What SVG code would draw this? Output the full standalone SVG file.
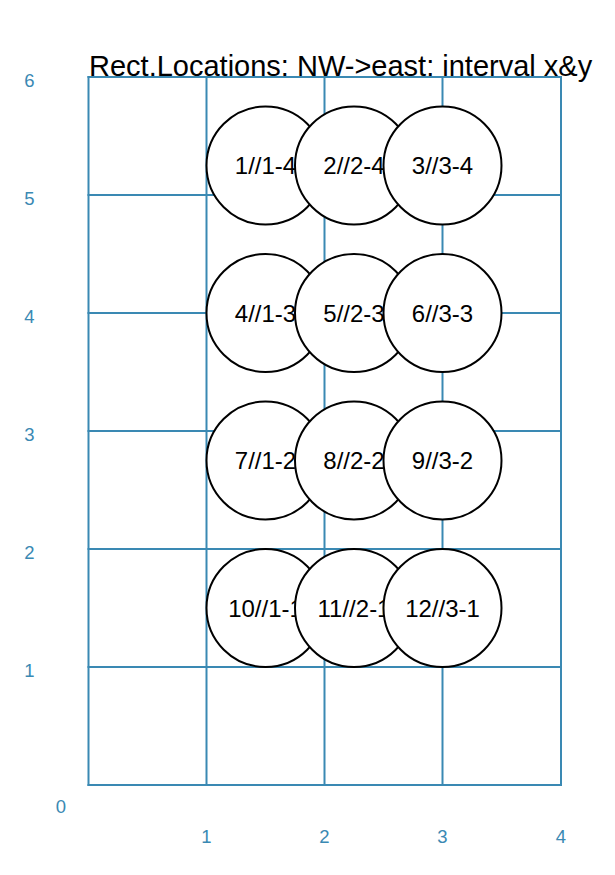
<svg xmlns="http://www.w3.org/2000/svg" width="615" height="875" viewBox="0 0 615 875">
<style>
.grid{stroke:#3a89b3;stroke-width:2;fill:none;stroke-linecap:square}
.ax{font-family:"Liberation Sans",Arial,sans-serif;font-size:18.5px;fill:#3a89b3;text-anchor:middle}
.title{font-family:"Liberation Sans",Arial,sans-serif;font-size:29px;fill:#000}
.node circle{fill:#fff;stroke:#000;stroke-width:2}
.node text{font-family:"Liberation Sans",Arial,sans-serif;font-size:24px;fill:#000;text-anchor:middle}
</style>
<rect width="615" height="875" fill="#fff"/>
<g id="grid" class="grid">
<path d="M88.5 77V785M206.5 77V785M324.5 77V785M442.5 77V785M561 77V785"/>
<path d="M88.5 77H561M88.5 195H561M88.5 313H561M88.5 431H561M88.5 549H561M88.5 667H561M88.5 785H561"/>
</g>
<g id="axis-labels" class="ax">
<text x="29.5" y="87">6</text>
<text x="29.5" y="205">5</text>
<text x="29.5" y="323">4</text>
<text x="29.5" y="441">3</text>
<text x="29.5" y="559">2</text>
<text x="29.5" y="677">1</text>
<text x="61" y="813">0</text>
<text x="206.5" y="843">1</text>
<text x="324.5" y="843">2</text>
<text x="442.5" y="843">3</text>
<text x="561" y="843">4</text>
</g>
<text id="title" class="title" x="89" y="76">Rect.Locations: NW-&gt;east: interval x&amp;y</text>
<g id="n1" class="node"><circle cx="265.5" cy="165.5" r="59"/><text x="265.5" y="174">1//1-4</text></g>
<g id="n2" class="node"><circle cx="354" cy="165.5" r="59"/><text x="354" y="174">2//2-4</text></g>
<g id="n3" class="node"><circle cx="442.5" cy="165.5" r="59"/><text x="442.5" y="174">3//3-4</text></g>
<g id="n4" class="node"><circle cx="265.5" cy="313" r="59"/><text x="265.5" y="321.5">4//1-3</text></g>
<g id="n5" class="node"><circle cx="354" cy="313" r="59"/><text x="354" y="321.5">5//2-3</text></g>
<g id="n6" class="node"><circle cx="442.5" cy="313" r="59"/><text x="442.5" y="321.5">6//3-3</text></g>
<g id="n7" class="node"><circle cx="265.5" cy="460.5" r="59"/><text x="265.5" y="469">7//1-2</text></g>
<g id="n8" class="node"><circle cx="354" cy="460.5" r="59"/><text x="354" y="469">8//2-2</text></g>
<g id="n9" class="node"><circle cx="442.5" cy="460.5" r="59"/><text x="442.5" y="469">9//3-2</text></g>
<g id="n10" class="node"><circle cx="265.5" cy="608" r="59"/><text x="265.5" y="616.5">10//1-1</text></g>
<g id="n11" class="node"><circle cx="354" cy="608" r="59"/><text x="354" y="616.5">11//2-1</text></g>
<g id="n12" class="node"><circle cx="442.5" cy="608" r="59"/><text x="442.5" y="616.5">12//3-1</text></g>
</svg>
